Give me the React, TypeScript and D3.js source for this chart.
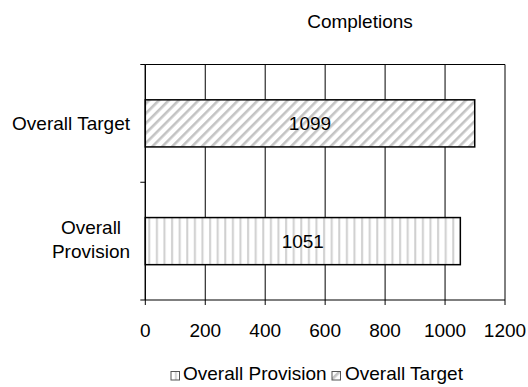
import React from "react";
import * as d3 from "d3";

const categories = ["Overall Target", "Overall Provision"];
const values = [1099, 1051];
const xTicks = [0, 200, 400, 600, 800, 1000, 1200];
const legendItems = ["Overall Provision", "Overall Target"];
const title = "Completions";

const W = 528;
const H = 387;
const FONT = "'Liberation Sans', Arial, sans-serif";

export default function App() {
  const left = 145.3;
  const right = 505;
  const top = 64.5;
  const bottom = 300;

  const x = d3.scaleLinear().domain([0, 1200]).range([left, right]);
  const y = d3
    .scaleBand<string>()
    .domain(categories)
    .range([top, bottom])
    .paddingInner(0.6)
    .paddingOuter(0.3);

  const patternFor = (c: string) => (c === "Overall Target" ? "url(#diag)" : "url(#vert)");
  const fs = 19;

  return (
    <svg
      width={W}
      height={H}
      style={{ position: "absolute", left: 0, top: 0, background: "#fff" }}
      fontFamily={FONT}
    >
      <defs>
        <pattern id="diag" patternUnits="userSpaceOnUse" width={7} height={10} patternTransform="rotate(45)">
          <rect width={7} height={10} fill="#fff" />
          <rect x={0} y={0} width={2.6} height={10} fill="#c4c4c4" />
        </pattern>
        <pattern id="vert" patternUnits="userSpaceOnUse" width={7.6} height={10} x={left}>
          <rect width={7.6} height={10} fill="#fff" />
          <rect x={3} y={0} width={2} height={10} fill="#cfcfcf" />
        </pattern>
      </defs>

      <text x={360} y={28} fontSize={fs} textAnchor="middle" fill="#000">
        {title}
      </text>

      {/* vertical gridlines */}
      {xTicks.map((t) => (
        <line key={"g" + t} x1={x(t)} x2={x(t)} y1={top} y2={bottom} stroke="#000" strokeWidth={1} />
      ))}
      <line x1={left} x2={right} y1={top} y2={top} stroke="#000" strokeWidth={1} />

      {/* bars */}
      {categories.map((c, i) => (
        <g key={c}>
          <rect
            x={x(0)}
            y={y(c)!}
            width={x(values[i]) - x(0)}
            height={y.bandwidth()}
            fill={patternFor(c)}
            stroke="#000"
            strokeWidth={1.5}
          />
          <text
            x={(x(0) + x(values[i])) / 2}
            y={y(c)! + y.bandwidth() / 2}
            dy="0.35em"
            fontSize={fs}
            textAnchor="middle"
            fill="#000"
          >
            {values[i]}
          </text>
        </g>
      ))}

      {/* axes */}
      <line x1={left} x2={left} y1={top} y2={bottom} stroke="#000" strokeWidth={1.2} />
      <line x1={left} x2={right} y1={bottom} y2={bottom} stroke="#000" strokeWidth={1.2} />
      {xTicks.map((t) => (
        <g key={"t" + t}>
          <line x1={x(t)} x2={x(t)} y1={bottom} y2={bottom + 5} stroke="#000" />
          <text x={x(t)} y={336.5} fontSize={fs} textAnchor="middle" fill="#000">
            {t}
          </text>
        </g>
      ))}
      {[top, (top + bottom) / 2, bottom].map((v) => (
        <line key={"yt" + v} x1={left - 5} x2={left} y1={v} y2={v} stroke="#000" />
      ))}

      {/* category labels */}
      <text x={130} y={y("Overall Target")! + y.bandwidth() / 2} dy="0.35em" fontSize={fs} textAnchor="end">
        Overall Target
      </text>
      <text fontSize={fs} textAnchor="middle">
        <tspan x={91} y={233.5}>Overall</tspan>
        <tspan x={91} y={257.5}>Provision</tspan>
      </text>

      {/* legend */}
      <g transform="translate(171,380)">
        <rect x={0} y={-8.5} width={8.5} height={8.5} fill="url(#vert)" stroke="#555" strokeWidth={1} />
        <text x={12} y={0} fontSize={fs}>
          {legendItems[0]}
        </text>
        <rect x={161} y={-8.5} width={8.5} height={8.5} fill="url(#diag)" stroke="#555" strokeWidth={1} />
        <text x={174} y={0} fontSize={fs}>
          {legendItems[1]}
        </text>
      </g>
    </svg>
  );
}
